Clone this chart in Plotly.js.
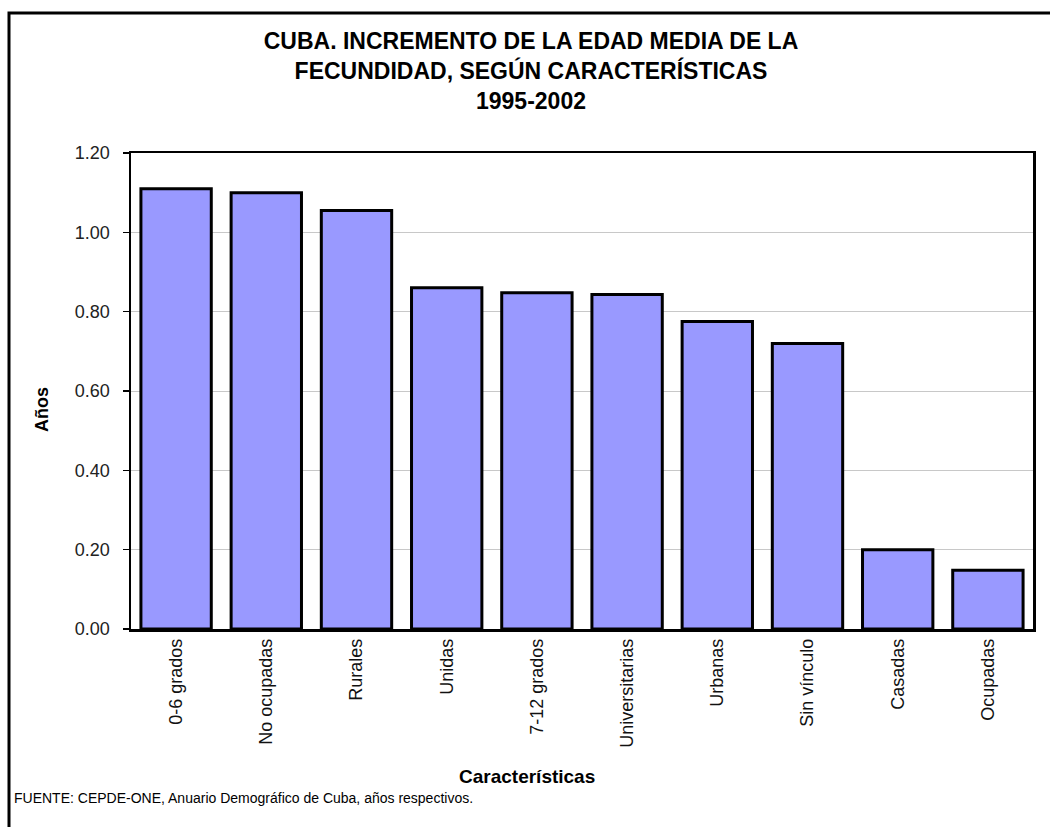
<!DOCTYPE html>
<html>
<head>
<meta charset="utf-8">
<script src="https://cdn.plot.ly/plotly-3.0.1.min.js"></script>
<style>html,body{margin:0;padding:0;background:#fff}#chart{width:1050px;height:827px}</style>
</head>
<body>
<div id="chart"></div>
<script>
const categories = ["0-6 grados","No ocupadas","Rurales","Unidas","7-12 grados","Universitarias","Urbanas","Sin vínculo","Casadas","Ocupadas"];
const values = [1.11, 1.10, 1.055, 0.86, 0.848, 0.843, 0.775, 0.72, 0.20, 0.148];
const yTicks = [0, 0.2, 0.4, 0.6, 0.8, 1.0, 1.2];
const yTickLabels = ["0.00","0.20","0.40","0.60","0.80","1.00","1.20"];

const L = 131, R = 17, T = 153, B = 198, W = 1050, H = 827;
const pw = W - L - R, ph = H - T - B;
const px = x => (x - L) / pw;
const py = y => (H - B - y) / ph;

const trace = {
  type: "bar",
  x: categories,
  y: values,
  marker: {color: "#9999FF", line: {color: "#000000", width: 3}},
  hoverinfo: "x+y"
};

const layout = {
  width: W, height: H,
  margin: {l: L, r: R, t: T, b: B},
  paper_bgcolor: "#ffffff",
  plot_bgcolor: "#ffffff",
  bargap: 0.22,
  showlegend: false,
  font: {family: "Liberation Sans, Arial, sans-serif", color: "#000"},
  title: {
    text: "CUBA. INCREMENTO DE LA EDAD MEDIA DE LA<br>FECUNDIDAD, SEGÚN CARACTERÍSTICAS<br>1995-2002",
    font: {family: "Liberation Sans Narrow, Arial Narrow, Liberation Sans, sans-serif", size: 23, color: "#000", weight: "bold"},
    x: px(531), xref: "paper", xanchor: "center",
    y: 1 - 49 / H, yref: "container", yanchor: "middle"
  },
  xaxis: {
    type: "category",
    showline: true, linecolor: "#000", linewidth: 2.5, mirror: true,
    ticks: "", tickangle: -90,
    tickfont: {size: 18, color: "#111"},
    showgrid: false, zeroline: false
  },
  yaxis: {
    range: [0, 1.2],
    tickvals: yTicks, ticktext: yTickLabels,
    showline: true, linecolor: "#000", linewidth: 2.5, mirror: true,
    ticks: "outside", ticklen: 6, tickcolor: "#000", tickwidth: 1.5,
    ticklabelstandoff: 9,
    tickfont: {size: 18, color: "#222"},
    showgrid: true, gridcolor: "#c8c8c8", gridwidth: 1,
    zeroline: false
  },
  shapes: [{
    type: "rect", xref: "paper", yref: "paper",
    x0: px(9), x1: px(1070), y0: py(850), y1: py(13),
    line: {color: "#000", width: 3}, fillcolor: "rgba(0,0,0,0)", layer: "above"
  }],
  annotations: [{
    xref: "paper", yref: "paper",
    x: px(12), y: py(798), xanchor: "left", yanchor: "middle",
    text: "FUENTE: CEPDE-ONE, Anuario Demográfico de Cuba, años respectivos.",
    showarrow: false, font: {size: 14, color: "#000"}
  }, {
    xref: "paper", yref: "paper",
    x: px(527), y: py(776), xanchor: "center", yanchor: "middle",
    text: "<b>Características</b>",
    showarrow: false, font: {size: 19, color: "#000"}
  }, {
    xref: "paper", yref: "paper",
    x: px(42), y: py(410), xanchor: "center", yanchor: "middle",
    text: "<b>Años</b>", textangle: -90,
    showarrow: false, font: {size: 18, color: "#000"}
  }]
};

Plotly.newPlot("chart", [trace], layout, {displayModeBar: false, staticPlot: true});
</script>
</body>
</html>
